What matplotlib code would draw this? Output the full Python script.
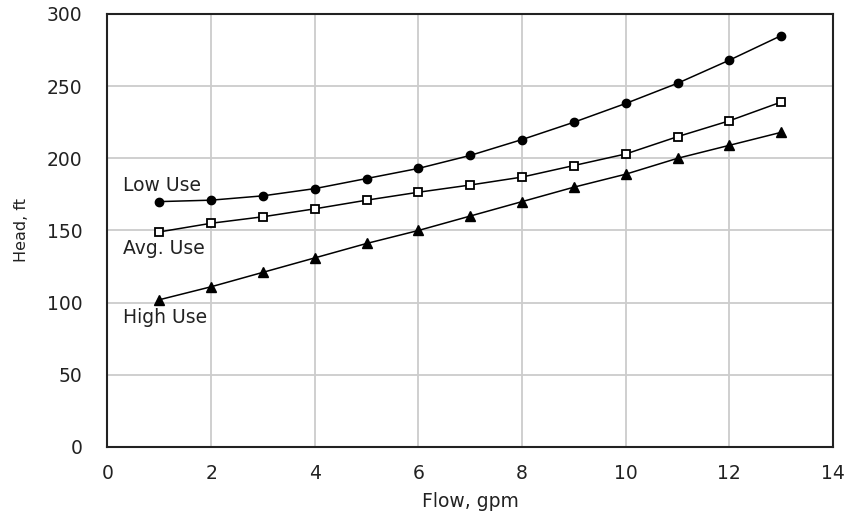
import matplotlib
matplotlib.use("Agg")
import matplotlib.pyplot as plt

flow = [1, 2, 3, 4, 5, 6, 7, 8, 9, 10, 11, 12, 13]
low_use = [170, 171, 174, 179, 186, 193, 202, 213, 225, 238, 252, 268, 285]
avg_use = [149, 155, 159.5, 165, 171, 176.5, 181.5, 187, 195, 203, 215, 226, 239]
high_use = [102, 111, 121, 131, 141, 150, 160, 170, 180, 189, 200, 209, 218]

x_ticks = [0, 2, 4, 6, 8, 10, 12, 14]
y_ticks = [0, 50, 100, 150, 200, 250, 300]

plt.rcParams["font.family"] = ["DejaVu Sans"]
fs = 13.5

fig = plt.figure(figsize=(8.45, 5.14), dpi=100)
ax = fig.add_axes([0.1272, 0.1304, 0.8586, 0.8424])

ax.plot(flow, low_use, color="black", lw=1.1, marker="o", ms=6, mfc="black", mec="black")
ax.plot(flow, avg_use, color="black", lw=1.1, marker="s", ms=5.5, mfc="white", mec="black", mew=1.3)
ax.plot(flow, high_use, color="black", lw=1.1, marker="^", ms=6.5, mfc="black", mec="black")

ax.text(0.3, 181, "Low Use", fontsize=fs, color="#222222", va="center", ha="left")
ax.text(0.3, 137.5, "Avg. Use", fontsize=fs, color="#222222", va="center", ha="left")
ax.text(0.3, 89.5, "High Use", fontsize=fs, color="#222222", va="center", ha="left")

ax.set_xlim(0, 14)
ax.set_ylim(0, 300)
ax.set_xticks(x_ticks)
ax.set_yticks(y_ticks)
ax.tick_params(length=0, labelsize=fs, labelcolor="#222222")
ax.tick_params(axis="y", pad=18)
ax.tick_params(axis="x", pad=12)
ax.grid(True, color="#cccccc", lw=1.3)
ax.set_axisbelow(True)
for s in ax.spines.values():
    s.set_color("#222222")
    s.set_linewidth(1.5)

ax.set_xlabel("Flow, gpm", fontsize=fs, color="#222222", labelpad=7)
ax.set_ylabel("Head, ft", fontsize=11.5, color="#222222")
ax.yaxis.set_label_coords(-0.108, 0.5)

fig.savefig("out.png", dpi=100)
